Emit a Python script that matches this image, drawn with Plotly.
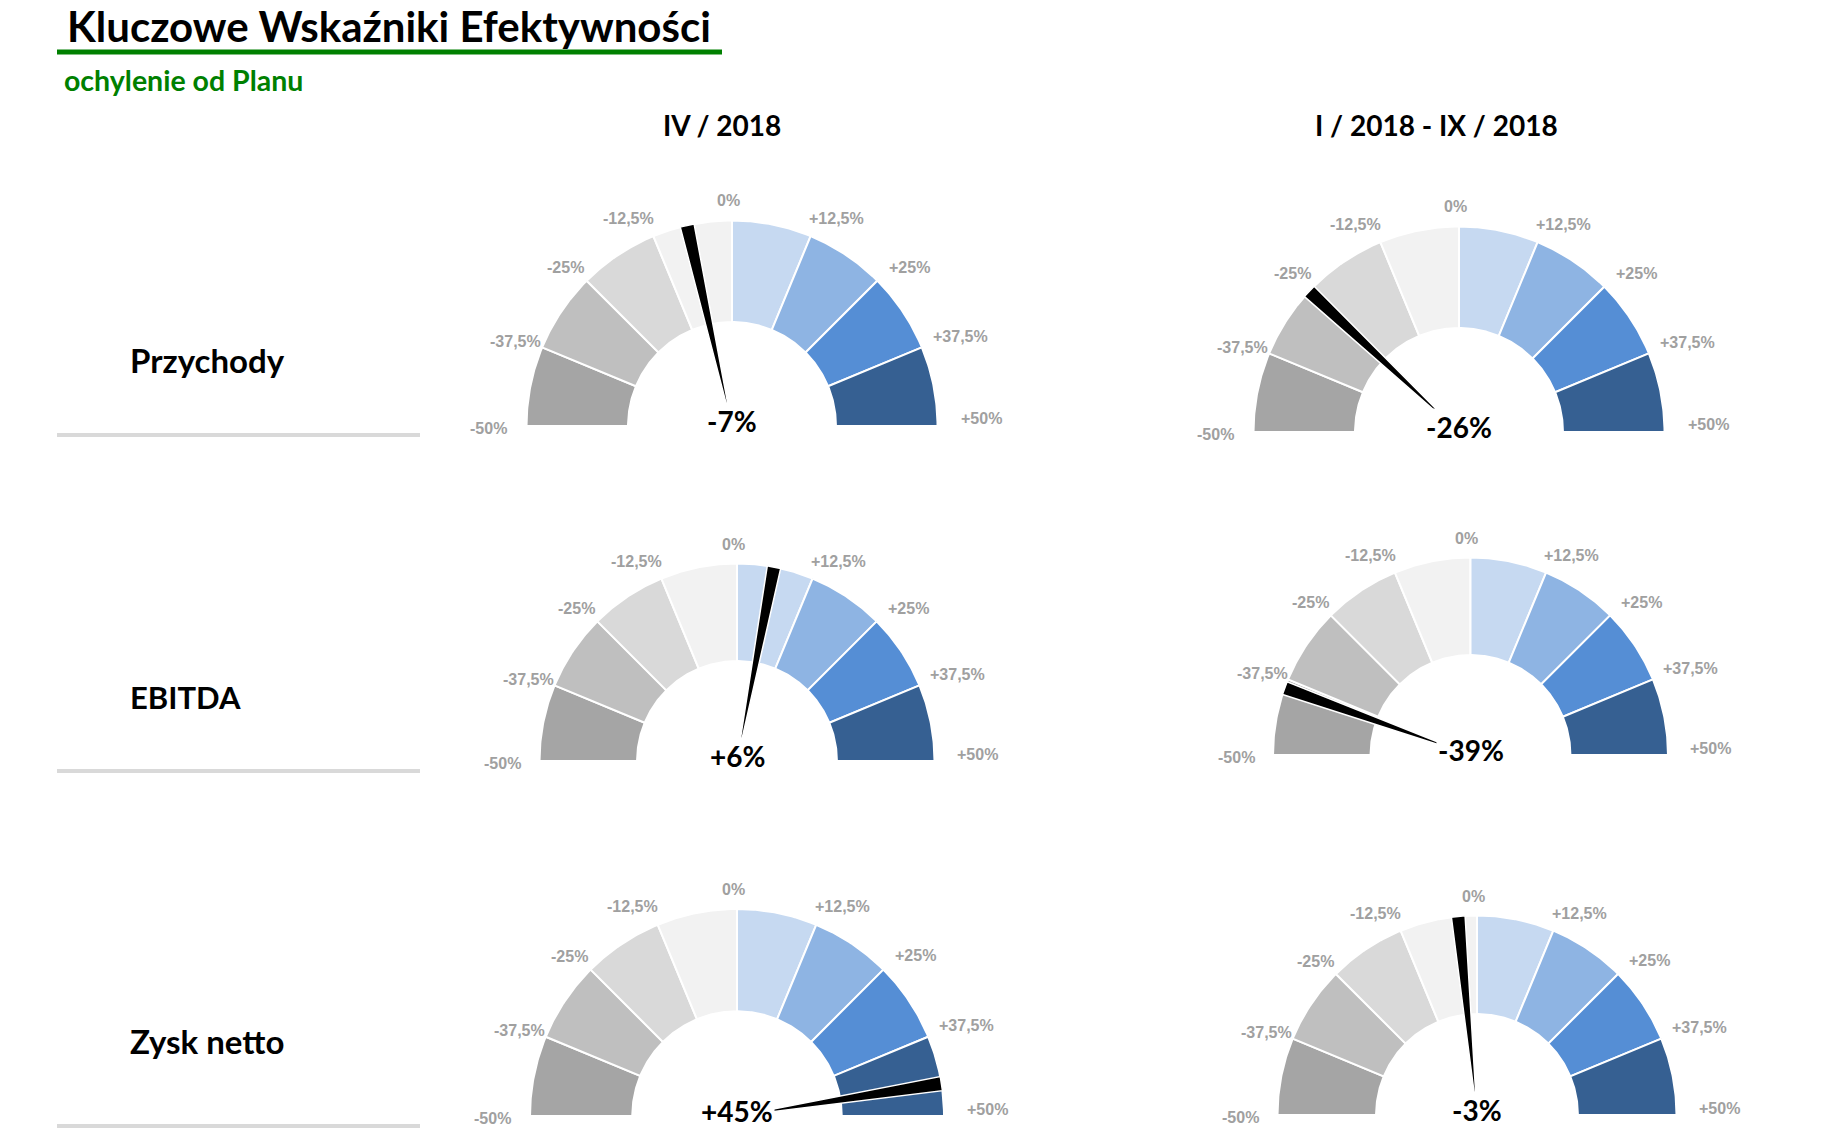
import numpy as np
import plotly.graph_objects as go

# ---------------- data ----------------
title_text = "Kluczowe Wskaźniki Efektywności"
subtitle_text = "ochylenie od Planu"
kpi_names = ["Przychody", "EBITDA", "Zysk netto"]
period_names = ["IV / 2018", "I / 2018 - IX / 2018"]
deviation_iv_2018 = [-7, 6, 45]          # % deviation from plan, IV / 2018
deviation_i_ix_2018 = [-26, -39, -3]     # % deviation from plan, I-IX / 2018
band_edges = [-50, -37.5, -25, -12.5, 0, 12.5, 25, 37.5, 50]
tick_labels = ["-50%", "-37,5%", "-25%", "-12,5%", "0%", "+12,5%", "+25%", "+37,5%", "+50%"]
band_colors = ["#A5A5A5", "#BFBFBF", "#D9D9D9", "#F2F2F2",
               "#C6D9F1", "#8EB4E3", "#558ED5", "#366092"]

# ---------------- layout / style ----------------
W, H = 1826, 1136
INNER = 0.506            # inner radius / outer radius
NEEDLE_HALF = 1.1        # needle half width in value units
LABEL_FONT = "Lato"
TICK_FONT = "Liberation Sans"
TICK_COLOR = "#A0A0A0"
GREEN = "#008000"
# small per-tick pixel nudges of the label placement (style only)
tick_nudge_x = [-5, 11, 1, -12, -8, 5, 2, -7, 3]

# gauge placement in pixels: centre x, base y, outer radius
gauge_boxes = {
    (0, 0): (732, 426, 205.5),
    (0, 1): (1459, 432, 205.5),
    (1, 0): (737, 761, 197.5),
    (1, 1): (1470.5, 755, 197.5),
    (2, 0): (737, 1116, 207),
    (2, 1): (1477, 1115, 199.5),
}
XR = (-1.5, 1.5)
YR = (-0.09, 1.3)


def ang(v):
    return np.pi * (50 - v) / 100.0


def ring_poly(a, b, r_out=1.0, r_in=INNER, n=40):
    t = np.linspace(ang(a), ang(b), n)
    xs = np.concatenate([r_out * np.cos(t), r_in * np.cos(t[::-1])])
    ys = np.concatenate([r_out * np.sin(t), r_in * np.sin(t[::-1])])
    return np.append(xs, xs[0]), np.append(ys, ys[0])


def needle_poly(v, n=8):
    t = np.linspace(ang(v - NEEDLE_HALF), ang(v + NEEDLE_HALF), n)
    xs = np.concatenate([[0.0], np.cos(t), [0.0]])
    ys = np.concatenate([[0.0], np.sin(t), [0.0]])
    return xs, ys


fig = go.Figure()
annotations = []
layout_axes = {}

values = [deviation_iv_2018, deviation_i_ix_2018]
idx = 0
for r in range(3):
    for c in range(2):
        idx += 1
        xa = "x" if idx == 1 else f"x{idx}"
        ya = "y" if idx == 1 else f"y{idx}"
        cx, base, R = gauge_boxes[(r, c)]
        xd = [(cx + XR[0] * R) / W, (cx + XR[1] * R) / W]
        yd = [(H - (base - YR[0] * R)) / H, (H - (base - YR[1] * R)) / H]
        yd = [max(0.0, yd[0]), min(1.0, yd[1])]
        kx = "xaxis" if idx == 1 else f"xaxis{idx}"
        ky = "yaxis" if idx == 1 else f"yaxis{idx}"
        layout_axes[kx] = dict(domain=xd, range=list(XR), visible=False, fixedrange=True, anchor=ya)
        layout_axes[ky] = dict(domain=yd, range=list(YR), visible=False, fixedrange=True, anchor=xa)

        for i in range(len(band_colors)):
            px, py = ring_poly(band_edges[i], band_edges[i + 1])
            fig.add_trace(go.Scatter(x=px, y=py, mode="lines", fill="toself",
                                     fillcolor=band_colors[i],
                                     line=dict(color="white", width=2),
                                     hoverinfo="skip", xaxis=xa, yaxis=ya))
        v = values[c][r]
        nx, ny = needle_poly(v)
        fig.add_trace(go.Scatter(x=nx, y=ny, mode="lines", fill="toself",
                                 fillcolor="black", line=dict(color="white", width=1.5),
                                 hoverinfo="skip", xaxis=xa, yaxis=ya))

        for e, lab, nud in zip(band_edges, tick_labels, tick_nudge_x):
            t = ang(e)
            w = 9 * len(lab)
            annotations.append(dict(
                x=1.10 * np.cos(t), y=1.10 * np.sin(t), xref=xa, yref=ya,
                xshift=np.cos(t) * w * 0.45 + 4 + nud,
                yshift=np.sin(t) * 1.5 - 2.5 + max(0.0, np.cos(t)) ** 8 * 9.5,
                text=f"<b>{lab}</b>", showarrow=False,
                font=dict(family=TICK_FONT, size=16, color=TICK_COLOR),
                xanchor="center", yanchor="middle"))

        annotations.append(dict(
            x=0, y=0, xref=xa, yref=ya, yshift=5,
            text=f"<b>{v:+d}%</b>", showarrow=False, bgcolor="white",
            font=dict(family=LABEL_FONT, size=28, color="black"),
            xanchor="center", yanchor="middle"))

# texts
annotations.append(dict(x=66 / W, y=1, xref="paper", yref="paper",
                        text=f"<b>{title_text}</b>", showarrow=False,
                        font=dict(family=LABEL_FONT, size=42, color="black"),
                        xanchor="left", yanchor="top", borderpad=0))
annotations.append(dict(x=62 / W, y=1 - 80 / H, xref="paper", yref="paper",
                        text=f"<b>{subtitle_text}</b>", showarrow=False,
                        font=dict(family=LABEL_FONT, size=28.5, color=GREEN),
                        xanchor="left", yanchor="middle"))
header_x = [722, 1436]
for hx, name in zip(header_x, period_names):
    annotations.append(dict(x=hx / W, y=1 - 125 / H, xref="paper", yref="paper",
                            text=f"<b>{name}</b>", showarrow=False,
                            font=dict(family=LABEL_FONT, size=28, color="black"),
                            xanchor="center", yanchor="middle"))
row_label_y = [360, 697, 1041]
row_line_y = [435, 771, 1126]
row_label_size = [33, 31, 33]
shapes = [dict(type="line", xref="paper", yref="paper", x0=57 / W, x1=722 / W,
               y0=1 - 52 / H, y1=1 - 52 / H, line=dict(color=GREEN, width=5))]
for name, ly, lny, fs in zip(kpi_names, row_label_y, row_line_y, row_label_size):
    annotations.append(dict(x=128 / W, y=1 - ly / H, xref="paper", yref="paper",
                            text=f"<b>{name}</b>", showarrow=False,
                            font=dict(family=LABEL_FONT, size=fs, color="black"),
                            xanchor="left", yanchor="middle"))
    shapes.append(dict(type="line", xref="paper", yref="paper", x0=57 / W, x1=420 / W,
                       y0=1 - lny / H, y1=1 - lny / H, line=dict(color="#D9D9D9", width=4)))

fig.update_layout(width=W, height=H, margin=dict(l=0, r=0, t=0, b=0),
                  paper_bgcolor="white", plot_bgcolor="white", showlegend=False,
                  annotations=annotations, shapes=shapes, **layout_axes)

fig.write_html("out.html")
